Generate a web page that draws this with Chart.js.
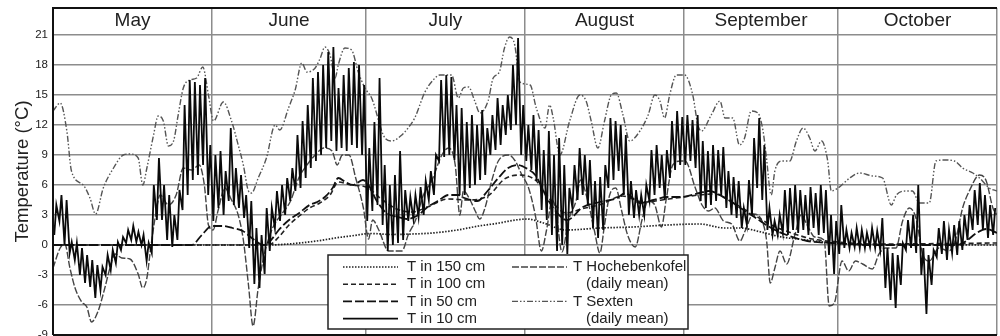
<!DOCTYPE html>
<html>
<head>
<meta charset="utf-8">
<script src="https://cdn.jsdelivr.net/npm/chart.js@4.4.1/dist/chart.umd.min.js"></script>
<style>
html, body { margin: 0; padding: 0; background: #fff; overflow: hidden; }
canvas { display: block; }
</style>
</head>
<body>
<canvas id="soil-chart" width="1000" height="350"></canvas>
<script>
// x values are days counted from 1 May
const months = ['May', 'June', 'July', 'August', 'September', 'October'];
const monthStarts = [0, 31, 61, 92, 123, 153, 184];
const yTicks = [-9, -6, -3, 0, 3, 6, 9, 12, 15, 18, 21];

// T in 10 cm: daily minimum and maximum, one value per day from 1 May
const t10Min = [
    1.0, 2.4, 0.0, -0.8, -1.5, -3.0, -3.8, -4.2, -5.3, -4.5,
    -3.0, -2.5, -1.8, -0.5, 0.2, 0.5, 0.3, 0.0, -1.6, -0.8,
    2.5, 2.5, 0.5, -0.2, 0.5, 3.5, 5.0, 6.5, 7.0, 8.0,
    5.0, 2.4, 3.7, 3.0, 4.4, 4.0, 3.7, 2.7, -0.3, -3.9,
    -4.3, -2.9, -0.6, 1.7, 2.4, 3.0, 4.4, 5.4, 5.7, 6.7,
    7.7, 8.4, 9.0, 9.7, 10.4, 9.4, 9.7, 9.4, 10.0, 9.7,
    9.0, 2.4, 3.4, 4.0, 2.0, -0.6, 0.0, 0.2, 0.5, 2.4,
    2.6, 2.8, 3.0, 4.5, 5.0, 8.4, 8.8, 9.0, 8.5, 5.0,
    5.0, 5.7, 6.0, 6.5, 7.0, 9.0, 9.5, 10.0, 11.0, 11.5,
    12.0, 9.0, 8.4, 7.5, 6.4, 3.5, 2.5, 1.0, -0.6, 0.0,
    -0.9, 3.7, 4.5, 5.0, 4.0, 1.7, 0.7, 1.5, 5.7, 6.5,
    7.4, 5.0, 3.0, 2.7, 3.0, 3.0, 4.4, 5.0, 5.7, 4.5,
    6.7, 7.5, 8.0, 8.0, 8.4, 7.7, 4.4, 3.7, 4.0, 4.4,
    5.0, 3.7, 3.0, 2.7, 1.7, 2.0, 3.0, 5.7, 4.5, 1.5,
    1.0, 1.0, 1.2, 1.0, 1.5, 1.2, 1.5, 1.0, 1.7, 1.0,
    1.2, -1.0, -2.9, -0.9, -0.3, -0.3, -0.2, -0.3, -0.3, -0.2,
    -0.3, -0.5, -4.3, -5.5, -6.3, -4.0, -0.5, -0.3, -0.8, -3.0,
    -6.9, -4.0, -1.2, -0.9, -1.5, -0.8, -1.0, -0.5, 0.5, 1.5,
    2.0, 1.5, 0.7, 1.0
];
const t10Max = [
    4.0, 5.0, 4.5, 0.3, 0.2, -0.3, -1.0, -1.5, -2.0, -2.2,
    -1.0, -0.5, 0.3, 0.8, 1.5, 1.9, 1.3, 1.0, 0.2, 6.0,
    8.7, 6.0, 5.0, 3.0, 5.5, 14.0, 16.5, 16.3, 16.0, 16.7,
    10.0, 9.0, 9.4, 7.4, 11.7, 7.7, 7.0, 5.0, 4.4, 1.7,
    1.0, 3.7, 3.7, 5.4, 6.0, 6.7, 7.7, 11.0, 12.4, 14.0,
    16.7, 17.3, 18.0, 19.3, 19.8, 15.7, 17.0, 17.7, 18.3, 18.0,
    16.0, 9.7, 12.3, 16.7, 8.0, 6.0, 7.0, 9.4, 5.5, 4.8,
    5.0, 5.8, 6.4, 7.4, 9.0, 16.5, 17.0, 16.8, 14.0, 13.7,
    12.3, 13.0, 12.0, 13.5, 11.7, 13.0, 14.7, 14.0, 15.0, 18.0,
    20.7, 14.0, 12.0, 13.0, 11.5, 9.5, 11.4, 9.0, 10.7, 8.0,
    5.7, 8.0, 9.7, 9.0, 8.5, 6.4, 6.8, 8.0, 12.7, 12.4,
    12.0, 11.0, 6.4, 5.5, 5.0, 6.0, 9.5, 10.0, 9.0, 9.5,
    12.4, 13.4, 12.8, 13.0, 12.5, 13.0, 10.4, 9.4, 10.0, 9.5,
    9.8, 7.4, 6.8, 6.4, 3.7, 6.5, 10.7, 12.7, 10.0, 3.7,
    2.4, 3.0, 5.5, 5.7, 6.0, 5.5, 5.0, 5.8, 5.2, 6.0,
    5.5, 3.0, 2.4, 4.0, 1.5, 1.2, 1.7, 1.5, 1.2, 1.7,
    1.4, 2.7, -0.3, -0.8, -1.0, 0.2, 2.5, 3.0, 6.0, -0.3,
    -1.0, -0.5, 1.7, 2.4, 1.5, 2.0, 2.4, 3.0, 4.0, 5.5,
    6.2, 5.0, 4.0, 3.7
];

// smoother series as [day, °C]
const t150 = [[0,0],[42,0],[47,0.15],[51.4,0.4],[55,0.7],[58,0.9],[62,1.15],[66,1.05],[70,1.1],[74,1.2],
    [78.8,1.5],[83,1.9],[87,2.2],[89,2.4],[92.4,2.6],[95.6,2.2],[100,1.5],[106.6,1.7],[113,1.8],[119.7,2.0],
    [126,2.1],[131,1.7],[134,1.7],[138,1.3],[142,0.8],[147,0.5],[152,0.2],[158,0.05],[184,0]];

const t100 = [[0,0],[42,0],[44,0.8],[46,2.0],[48,2.9],[50,3.7],[52,4.2],[54,5.0],[55.6,6.3],[58,6.0],
    [61,5.8],[64,4.6],[67,3.6],[70,3.3],[73,3.8],[77,4.6],[81,4.5],[85,5.0],[88,6.6],[91,7.0],
    [94,6.5],[97,4.5],[100,3.2],[103,3.6],[107,4.1],[111,4.9],[115,4.3],[120,4.6],[126,5.0],[129,5.1],
    [132,4.4],[136,3.2],[140,2.0],[144,1.2],[148,0.6],[153,0.3],[160,0.1],[184,0.2]];

const t50 = [[0,0],[27,0],[29,1.0],[31,1.9],[33,1.9],[35,1.7],[37,1.4],[39,0.6],[41,0],[42.5,0.5],
    [44,1.5],[46,2.5],[48,3.2],[50,4.0],[51.5,4.3],[53,4.8],[54.5,5.7],[55.6,6.7],[57,6.3],[58.5,6.0],
    [60.4,6.5],[61.5,6.0],[63,4.5],[65,3.2],[67.3,2.8],[69,2.6],[71.2,3.0],[73,3.8],[75,4.4],[77.1,5.0],
    [79,5.0],[80.2,4.7],[82.7,4.4],[84.7,5.4],[86.8,6.7],[88.7,7.7],[90.6,8.0],[92.5,7.6],[94,7.0],[96,5.0],
    [97.5,3.7],[100.2,2.5],[103.3,3.8],[106.6,4.3],[110,4.7],[111.5,5.2],[114.4,4.2],[117,4.5],[119.7,4.8],[122.3,4.8],
    [126,5.2],[127.9,5.4],[131,4.7],[134,3.7],[137,2.7],[140,1.7],[143,1.0],[147,0.4],[152,0.2],[160,0],
    [176,0],[178,0.4],[180,1.2],[182,1.6],[184,1.2]];

const hochebenkofel = [[0,-2.3],[1.4,-0.3],[2.3,0.1],[3.3,-2.3],[4.3,-4.3],[5.6,-5.7],[6.6,-6.2],[7.5,-7.7],[8.8,-6.6],[10.1,-4.3],
    [11.1,-2.3],[12.1,-0.9],[13.4,-1.3],[15,-1.4],[16.6,-2.9],[17.5,-4.3],[18.3,-3.3],[18.9,-0.9],[19.9,2.7],[20.9,5.0],
    [22.5,4.0],[24,5.0],[25.4,7.7],[27,7.5],[28.5,8.0],[29.5,6.0],[30.3,2.0],[31.2,1.5],[32.2,3.5],[33.5,5.7],
    [34.8,4.5],[36.1,3.0],[37.1,0.5],[38.1,-4.0],[39,-8.1],[40,-4.3],[41.2,-0.9],[42.8,1.7],[44.6,3.1],[46.3,4.4],
    [47.9,6.7],[49.5,8.0],[51.1,9.0],[52.8,9.7],[54.4,9.4],[55.4,8.0],[56.4,9.0],[57.7,9.0],[59,6.7],[60.5,3.7],
    [61.5,0.6],[62.3,2.5],[63.5,1.5],[65.4,-0.6],[68,-0.6],[69.3,1.1],[70.6,2.4],[72.2,5.0],[73.8,6.4],[75.8,9.0],
    [77.1,9.7],[78.4,8.0],[79.3,3.0],[80,5.4],[81.3,4.5],[82.3,3.4],[83.2,2.6],[84.2,3.7],[85.5,6.4],[86.8,8.4],
    [88.8,9.0],[90.1,8.4],[91.4,7.0],[92.7,5.7],[94,3.0],[95.2,-0.6],[96.2,1.5],[97.3,4.5],[98,3.5],[99.2,-0.7],
    [100.5,2.5],[102,4.5],[102.8,6.5],[104.2,4.5],[105.5,1.5],[106.6,-0.8],[107.5,2.0],[108.5,5.0],[109.7,5.7],[110.8,3.5],
    [112,1.0],[113.5,-0.2],[114.8,2.5],[116,4.4],[117.3,4.0],[118.6,1.8],[119.5,4.5],[120.8,8.0],[122.3,8.4],[123.2,8.4],
    [125.2,5.7],[126.5,4.0],[127.8,3.4],[129,3.7],[130.7,2.4],[132.3,2.1],[133.9,0.4],[134.9,1.4],[136.5,3.1],[138.2,2.4],
    [139.1,0.4],[139.8,-3.8],[140.7,-2.3],[141.7,-0.6],[143,-1.9],[144.6,1.0],[145.8,3.0],[147,2.0],[148.5,0.8],[150.3,0.5],
    [151.3,-6.1],[152.3,-5.8],[153.8,-1.6],[155.1,-2.6],[156.4,-1.6],[157.8,-1.9],[159.7,-2.4],[161,-0.9],[162.3,-0.3],[164.3,-0.3],
    [165.6,2.4],[166.9,3.7],[168.2,2.7],[169.5,-0.9],[170.8,-1.6],[172.7,-0.3],[174.6,-0.6],[176,0.7],[177.3,3.7],[178.6,5.4],
    [180.6,7.0],[181.9,6.4],[183.2,3.7],[184,3.0]];

const sexten = [[0,13.4],[1.4,14.2],[2.7,11.4],[3.6,7.4],[5.9,6.0],[7.2,4.7],[8.3,3.1],[9.8,5.7],[11.8,7.7],[13.7,9.0],
    [15,9.1],[16.6,8.7],[17.5,6.0],[18.3,7.7],[19.6,11.0],[20.5,12.9],[21.5,12.4],[22.5,9.9],[23.5,10.4],[24.4,13.0],
    [25.4,15.7],[26.7,16.5],[28,16.7],[29.2,17.8],[30.3,15.0],[31.3,12.4],[33.2,14.3],[34.8,12.4],[36.1,10.0],[37.1,8.0],
    [38.1,5.4],[38.7,5.2],[40,6.7],[41.6,8.7],[43.3,12.0],[44.2,11.5],[45.9,13.7],[47.2,15.5],[48.5,18.2],[49.5,17.3],
    [51.1,17.7],[52.1,18.7],[53,19.8],[54,19.0],[55,16.7],[55.6,18.0],[56.9,19.7],[58.2,19.5],[59.5,17.3],[60.8,15.7],
    [62.1,14.7],[64.7,10.7],[66,10.4],[68,11.0],[69.2,11.7],[70.5,12.7],[72.5,15.3],[74.1,16.5],[75.4,17.0],[77.7,17.0],
    [79,14.7],[80,15.7],[81,15.8],[82.2,14.4],[83.2,13.2],[84.8,14.4],[85.8,16.7],[87,17.3],[88,19.7],[89,20.8],
    [90,20.0],[91,16.3],[93,16.0],[94.2,13.7],[95.9,11.7],[96.8,14.0],[97.5,12.7],[98.8,9.0],[100.7,12.4],[102.7,15.0],
    [103.9,14.4],[104.9,12.4],[106.2,9.7],[107.5,12.4],[108.8,15.0],[109.8,15.2],[111.1,13.0],[112.4,10.4],[114.4,11.4],[116,13.0],
    [117.3,15.0],[118.3,14.4],[119.2,12.7],[120.2,15.0],[121.5,17.0],[123.1,17.0],[124.7,15.0],[125.7,12.0],[126.4,11.4],[128.3,13.0],
    [130,14.4],[131,12.7],[132.5,12.7],[133.8,10.0],[134.8,10.7],[136.1,13.4],[137.4,13.2],[138.4,11.4],[139,9.0],[140,5.0],
    [140.7,7.4],[142,8.4],[143.6,8.4],[144.9,10.4],[146.2,11.7],[147.5,10.7],[148.5,9.4],[149.8,10.4],[151,8.4],[151.7,5.4],
    [153,5.7],[155.3,6.7],[157.2,7.2],[159.8,6.9],[161.7,6.7],[163.4,4.0],[164.4,5.0],[166.3,5.4],[167.5,5.4],[168.9,4.2],
    [170.8,4.2],[172.1,8.4],[173.7,8.5],[175.7,8.4],[177.3,7.7],[179.3,7.2],[180.6,6.7],[182.5,5.7],[184,5.4]];

const legendLeft = ['T in 150 cm', 'T in 100 cm', 'T in 50 cm', 'T in 10 cm'];
const legendRight = [['T Hochebenkofel', '(daily mean)'], ['T Sexten', '(daily mean)']];

const FONT = '"Liberation Sans", Arial, sans-serif';

function toPoints(arr){
    return arr.map(p => ({x: p[0], y: p[1]}));
}

function dailyCycle(mins, maxs){
    //min early in the day, max in the afternoon
    let pts = [];
    mins.forEach((lo, d) => {
        pts.push({x: d + 0.25, y: lo});
        pts.push({x: d + 0.65, y: maxs[d]});
    });
    return pts;
}

const decor = {
    id: 'decor',
    afterDatasetsDraw(chart){
        const {ctx, chartArea: a, scales: {x}} = chart;
        ctx.save();

        //frame
        ctx.strokeStyle = '#111';
        ctx.lineWidth = 2;
        ctx.beginPath();
        ctx.moveTo(a.left, a.bottom);
        ctx.lineTo(a.left, a.top);
        ctx.lineTo(a.right, a.top);
        ctx.moveTo(a.left, a.bottom);
        ctx.lineTo(a.right, a.bottom);
        ctx.stroke();

        //month names
        ctx.fillStyle = '#222';
        ctx.font = '19px ' + FONT;
        ctx.textAlign = 'center';
        ctx.textBaseline = 'middle';
        months.forEach((m, i) => {
            const cx = x.getPixelForValue((monthStarts[i] + monthStarts[i + 1]) / 2);
            ctx.fillText(m, cx, a.top + 13);
        });

        //legend box
        const bx = a.left + 275, by = a.top + 247, bw = 360, bh = 74;
        ctx.fillStyle = '#fff';
        ctx.fillRect(bx, by, bw, bh);
        ctx.strokeStyle = '#222';
        ctx.lineWidth = 1.5;
        ctx.strokeRect(bx, by, bw, bh);

        const rowY = i => by + 12 + i * 17.2;
        const findDs = label => chart.data.datasets.find(d => d.label === label);
        const sample = (ds, x0, x1, yy) => {
            ctx.save();
            ctx.strokeStyle = ds.borderColor;
            ctx.lineWidth = ds.borderWidth;
            ctx.setLineDash(ds.borderDash || []);
            ctx.beginPath();
            ctx.moveTo(x0, yy);
            ctx.lineTo(x1, yy);
            ctx.stroke();
            ctx.restore();
        };
        const text = (t, tx, ty) => {
            ctx.fillStyle = '#222';
            ctx.font = '15px ' + FONT;
            ctx.textAlign = 'left';
            ctx.textBaseline = 'middle';
            ctx.fillText(t, tx, ty);
        };

        legendLeft.forEach((label, i) => {
            sample(findDs(label), bx + 15, bx + 70, rowY(i));
            text(label, bx + 79, rowY(i));
        });
        legendRight.forEach((pair, j) => {
            sample(findDs(pair[0]), bx + 184, bx + 239, rowY(2 * j));
            text(pair[0], bx + 245, rowY(2 * j));
            text(pair[1], bx + 258, rowY(2 * j + 1));
        });

        ctx.restore();
    }
};

new Chart(document.querySelector('#soil-chart'), {
    type: 'line',
    data: {
        datasets: [
            {
                label: 'T in 10 cm',
                data: dailyCycle(t10Min, t10Max),
                borderColor: '#0a0a0a',
                borderWidth: 1.8,
                tension: 0
            },
            {
                label: 'T in 50 cm',
                data: toPoints(t50),
                borderColor: '#111',
                borderWidth: 1.8,
                borderDash: [9, 3],
                cubicInterpolationMode: 'monotone'
            },
            {
                label: 'T in 100 cm',
                data: toPoints(t100),
                borderColor: '#222',
                borderWidth: 1.6,
                borderDash: [5, 3],
                cubicInterpolationMode: 'monotone'
            },
            {
                label: 'T in 150 cm',
                data: toPoints(t150),
                borderColor: '#222',
                borderWidth: 1.7,
                borderDash: [1.5, 1.5],
                cubicInterpolationMode: 'monotone'
            },
            {
                label: 'T Hochebenkofel',
                data: toPoints(hochebenkofel),
                borderColor: '#444',
                borderWidth: 1.4,
                borderDash: [7, 2],
                cubicInterpolationMode: 'monotone'
            },
            {
                label: 'T Sexten',
                data: toPoints(sexten),
                borderColor: '#555',
                borderWidth: 1.4,
                borderDash: [6, 2, 1.5, 2, 1.5, 2],
                cubicInterpolationMode: 'monotone'
            }
        ]
    },
    options: {
        responsive: false,
        animation: false,
        elements: {
            point: {radius: 0}
        },
        layout: {
            padding: {left: 0, right: 3, top: 8, bottom: 15}
        },
        scales: {
            x: {
                type: 'linear',
                min: 0,
                max: 184,
                afterBuildTicks: scale => {
                    scale.ticks = monthStarts.map(v => ({value: v}));
                },
                afterFit: scale => {
                    scale.height = 0;
                },
                ticks: {display: false},
                grid: {color: '#8c8c8c', lineWidth: 1.5, drawTicks: false},
                border: {display: false}
            },
            y: {
                min: -9,
                max: 23.7,
                afterBuildTicks: scale => {
                    scale.ticks = yTicks.map(v => ({value: v}));
                },
                afterFit: scale => {
                    scale.width = 53;
                    //let the layout padding alone decide top and bottom
                    scale.paddingTop = 0;
                    scale.paddingBottom = 0;
                },
                ticks: {
                    color: '#222',
                    padding: 5,
                    font: {family: FONT, size: 11.5}
                },
                grid: {color: '#8c8c8c', lineWidth: 1.5, drawTicks: false},
                border: {display: false},
                title: {
                    display: true,
                    text: 'Temperature (°C)',
                    color: '#222',
                    font: {family: FONT, size: 18.5},
                    padding: {top: 12, bottom: 0}
                }
            }
        },
        plugins: {
            legend: {display: false},
            tooltip: {enabled: false}
        }
    },
    plugins: [decor]
});
</script>
</body>
</html>
